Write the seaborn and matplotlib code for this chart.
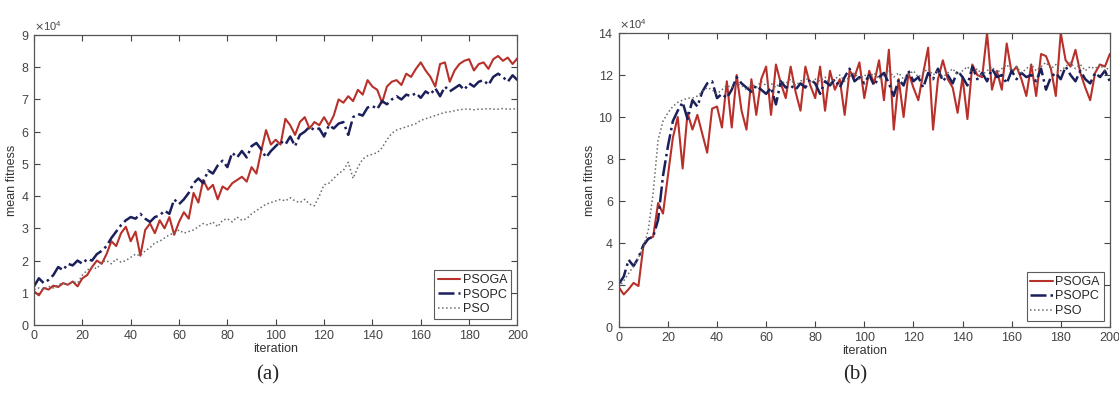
import numpy as np
import matplotlib.pyplot as plt
import seaborn as sns

# ── datos (valores en unidades de 10^4) ─────────
iterations = list(range(0, 201, 2))

a_psoga = [1.05, 0.92, 1.15, 1.10, 1.22, 1.18, 1.30, 1.25, 1.35, 1.20,
           1.45, 1.55, 1.80, 2.00, 1.90, 2.20, 2.60, 2.45, 2.85, 3.05,
           2.60, 2.90, 2.15, 2.95, 3.15, 2.85, 3.25, 3.00, 3.35, 2.80,
           3.20, 3.50, 3.30, 4.10, 3.80, 4.50, 4.20, 4.35, 3.90, 4.30,
           4.20, 4.40, 4.50, 4.60, 4.45, 4.90, 4.70, 5.40, 6.05, 5.60,
           5.75, 5.60, 6.40, 6.20, 5.90, 6.30, 6.45, 6.10, 6.30, 6.20,
           6.45, 6.20, 6.50, 7.00, 6.90, 7.10, 6.95, 7.30, 7.15, 7.60,
           7.40, 7.30, 6.90, 7.40, 7.55, 7.60, 7.45, 7.80, 7.70, 7.95,
           8.15, 7.90, 7.70, 7.40, 8.10, 8.15, 7.55, 7.90, 8.10, 8.20,
           8.25, 7.90, 8.10, 8.15, 7.95, 8.25, 8.35, 8.20, 8.30, 8.10,
           8.28]
a_psopc = [1.20, 1.45, 1.30, 1.40, 1.55, 1.80, 1.70, 1.90, 1.85, 2.00,
           1.90, 2.05, 2.00, 2.20, 2.30, 2.45, 2.70, 2.90, 3.10, 3.25,
           3.35, 3.30, 3.45, 3.30, 3.20, 3.35, 3.40, 3.55, 3.45, 3.90,
           3.75, 3.90, 4.10, 4.40, 4.55, 4.40, 4.80, 4.70, 4.95, 5.10,
           4.90, 5.35, 5.20, 5.40, 5.20, 5.55, 5.65, 5.45, 5.20, 5.40,
           5.55, 5.70, 5.60, 5.85, 5.55, 5.90, 6.00, 6.15, 6.05, 6.10,
           5.85, 6.20, 6.10, 6.25, 6.30, 5.90, 6.45, 6.55, 6.50, 6.75,
           6.80, 6.70, 6.95, 6.85, 7.00, 7.10, 7.00, 7.15, 7.10, 7.20,
           7.05, 7.25, 7.15, 7.35, 7.10, 7.40, 7.25, 7.35, 7.45, 7.30,
           7.50, 7.40, 7.55, 7.60, 7.45, 7.70, 7.80, 7.70, 7.55, 7.75,
           7.60]
a_pso = [1.10, 1.15, 1.10, 1.20, 1.15, 1.25, 1.30, 1.25, 1.35, 1.30,
         1.55, 1.70, 1.80, 1.75, 1.95, 2.00, 1.90, 2.05, 1.95, 2.00,
         2.10, 2.20, 2.15, 2.30, 2.40, 2.55, 2.60, 2.70, 2.80, 2.85,
         2.95, 2.85, 2.90, 2.95, 3.05, 3.15, 3.10, 3.20, 3.05, 3.25,
         3.30, 3.20, 3.35, 3.25, 3.30, 3.45, 3.55, 3.65, 3.75, 3.80,
         3.85, 3.90, 3.85, 3.95, 3.85, 3.80, 3.90, 3.75, 3.70, 4.00,
         4.35, 4.40, 4.55, 4.70, 4.80, 5.05, 4.55, 4.90, 5.15, 5.25,
         5.30, 5.35, 5.50, 5.75, 5.95, 6.05, 6.10, 6.15, 6.20, 6.25,
         6.35, 6.40, 6.45, 6.50, 6.55, 6.60, 6.62, 6.65, 6.68, 6.70,
         6.70, 6.68, 6.70, 6.70, 6.72, 6.70, 6.70, 6.72, 6.70, 6.70,
         6.72]

b_psoga = [1.90, 1.55, 1.80, 2.10, 1.95, 3.85, 4.20, 4.30, 5.90, 5.40,
           7.20, 9.00, 10.00, 7.55, 10.20, 9.40, 10.10, 9.20, 8.30, 10.40,
           10.50, 9.50, 11.70, 9.50, 12.00, 10.30, 9.40, 11.80, 10.10, 11.80,
           12.40, 10.10, 12.50, 11.60, 10.90, 12.40, 11.20, 10.30, 12.40, 11.50,
           10.90, 12.40, 10.30, 12.20, 11.30, 11.80, 10.10, 12.20, 11.90, 12.60,
           10.90, 12.20, 11.60, 12.70, 10.80, 13.20, 9.40, 11.80, 10.00, 12.10,
           11.40, 10.80, 12.10, 13.30, 9.40, 11.80, 12.70, 11.80, 11.40, 10.20,
           11.90, 9.90, 12.50, 12.00, 11.90, 14.00, 11.30, 12.20, 11.30, 13.50,
           12.10, 12.40, 11.80, 11.00, 12.50, 11.00, 13.00, 12.90, 12.30, 11.00,
           14.00, 12.70, 12.40, 13.20, 12.10, 11.40, 10.80, 12.10, 12.50, 12.40,
           13.00]
b_psopc = [2.05, 2.40, 3.20, 2.90, 3.30, 3.90, 4.20, 4.30, 5.10, 7.20,
           8.60, 9.80, 10.30, 10.70, 9.90, 10.80, 10.50, 11.20, 11.60, 11.70,
           10.90, 11.10, 10.90, 11.30, 11.90, 11.60, 11.40, 11.20, 11.50, 11.30,
           11.10, 11.40, 10.60, 11.70, 11.40, 11.50, 11.30, 11.60, 11.40, 11.80,
           11.60, 11.10, 11.70, 11.50, 11.80, 11.40, 11.90, 12.30, 11.70, 11.90,
           11.60, 12.00, 11.50, 11.90, 12.10, 11.60, 11.00, 11.80, 11.50, 12.20,
           11.70, 11.90, 11.40, 12.10, 11.80, 12.30, 11.70, 12.00, 11.60, 12.20,
           11.90, 11.50, 12.40, 11.80, 12.10, 11.70, 12.30, 11.90, 12.00, 11.60,
           12.20, 11.80, 12.10, 11.90, 12.00, 11.70, 12.30, 11.30, 11.90, 12.10,
           11.80, 12.40, 12.00, 11.70, 12.20, 11.80, 11.60, 12.10, 11.90, 12.20,
           11.70]
b_pso = [1.90, 2.20, 2.55, 2.90, 3.30, 3.80, 4.60, 6.40, 8.90, 9.80,
         10.20, 10.50, 10.70, 10.80, 10.90, 10.90, 11.00, 11.20, 11.40, 11.30,
         11.10, 11.30, 11.50, 11.40, 11.60, 11.50, 11.30, 11.60, 11.40, 11.70,
         11.50, 11.60, 11.40, 11.70, 11.60, 11.80, 11.50, 11.70, 11.90, 11.60,
         11.80, 11.70, 11.90, 11.60, 11.80, 12.00, 11.70, 11.90, 12.10, 11.80,
         12.00, 11.90, 12.10, 11.80, 12.00, 12.20, 11.90, 12.10, 11.80, 12.00,
         12.20, 11.90, 12.10, 12.30, 12.00, 12.20, 11.90, 12.10, 12.30, 12.00,
         12.20, 12.40, 12.10, 12.30, 12.00, 12.20, 12.40, 12.10, 12.30, 12.50,
         12.20, 12.40, 12.10, 12.30, 12.50, 12.20, 12.40, 12.60, 12.30, 12.50,
         12.20, 12.40, 12.60, 12.30, 12.50, 12.20, 12.40, 12.30, 12.50, 12.20,
         12.40]

labels = ['PSOGA', 'PSOPC', 'PSO']
colors = ['#b8302a', '#1b1f5a', '#6a6a6a']
styles = ['-', '-.', ':']
widths = [1.5, 1.8, 1.1]

panels = [
    ([a_psoga, a_psopc, a_pso], 9, 1, '(a)'),
    ([b_psoga, b_psopc, b_pso], 14, 2, '(b)'),
]

# ── estilo ───────────────────────────────────────
sns.set_style('ticks')
plt.rcParams['font.family'] = ['Liberation Sans', 'DejaVu Sans']

fig = plt.figure(figsize=(11.19, 3.98), dpi=100)
axes = [fig.add_axes([0.0304, 0.1834, 0.432, 0.7286]),
        fig.add_axes([0.553, 0.1784, 0.4388, 0.7387])]
label_x = [0.2395, 0.764]

for ax, (series, ymax, ystep, tag), lx in zip(axes, panels, label_x):
    for vals, lab, c, ls, lw in zip(series, labels, colors, styles, widths):
        sns.lineplot(x=iterations, y=np.array(vals) * 1e4, ax=ax, color=c,
                     linestyle=ls, linewidth=lw, label=lab)
    ax.set_xlim(0, 200)
    ax.set_ylim(0, ymax * 1e4)
    ax.set_xticks(range(0, 201, 20))
    ax.set_yticks(np.arange(0, ymax + 1, ystep) * 1e4)
    ax.ticklabel_format(axis='y', style='sci', scilimits=(4, 4), useMathText=True)
    ax.yaxis.get_offset_text().set_fontsize(8)
    ax.yaxis.get_offset_text().set_color('#444444')
    ax.tick_params(direction='in', length=4, top=True, right=True,
                   labelsize=9, colors='#444444', width=0.8)
    for sp in ax.spines.values():
        sp.set_color('#555555')
        sp.set_linewidth(0.9)
    ax.set_xlabel('iteration', fontsize=9, color='#333333', labelpad=1)
    ax.set_ylabel('mean fitness', fontsize=9, color='#333333', labelpad=2)
    leg = ax.legend(loc='lower right', fontsize=9, frameon=True, fancybox=False,
                    borderpad=0.3, labelspacing=0.2, handlelength=1.8,
                    handletextpad=0.2, borderaxespad=0.5)
    leg.get_frame().set_edgecolor('#333333')
    leg.get_frame().set_linewidth(0.8)
    fig.text(lx, 0.058, tag, ha='center', va='center', fontsize=15,
             family=['Liberation Serif', 'DejaVu Serif'])

fig.savefig('out.png', dpi=100)
